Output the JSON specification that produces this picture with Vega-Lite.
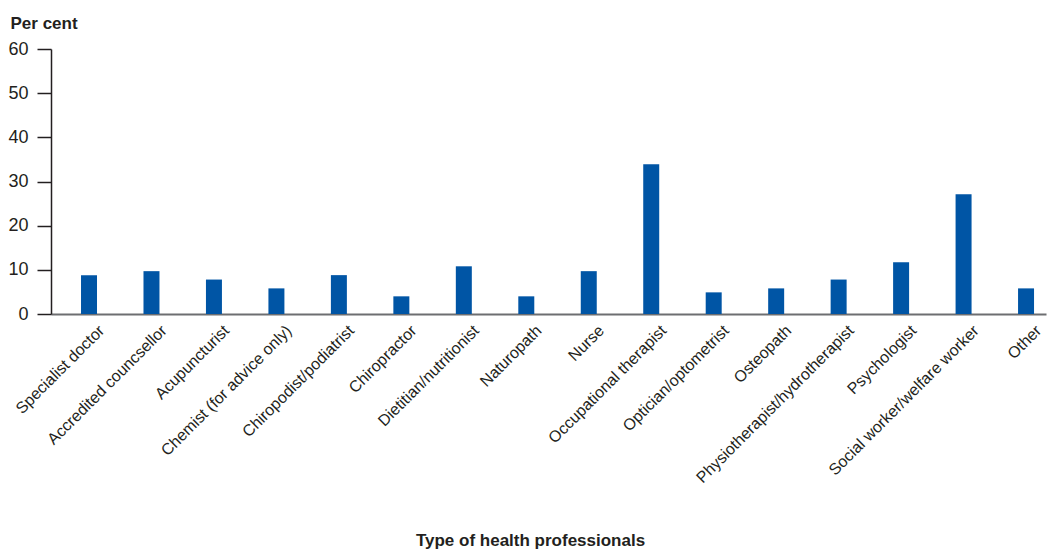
{
  "$schema": "https://vega.github.io/schema/vega-lite/v6.json",
  "width": 995,
  "height": 265,
  "autosize": {"type": "none"},
  "padding": {"left": 51, "top": 49, "right": 1, "bottom": 242},
  "background": "white",
  "config": {
    "view": {"stroke": null},
    "font": "Liberation Sans, sans-serif"
  },
  "data": {
    "values": [
      {"profession": "Specialist doctor", "percent": 8.8},
      {"profession": "Accredited councsellor", "percent": 9.7},
      {"profession": "Acupuncturist", "percent": 7.8},
      {"profession": "Chemist (for advice only)", "percent": 5.8},
      {"profession": "Chiropodist/podiatrist", "percent": 8.8},
      {"profession": "Chiropractor", "percent": 4.0},
      {"profession": "Dietitian/nutritionist", "percent": 10.8},
      {"profession": "Naturopath", "percent": 4.0},
      {"profession": "Nurse", "percent": 9.7},
      {"profession": "Occupational therapist", "percent": 33.9},
      {"profession": "Optician/optometrist", "percent": 4.9},
      {"profession": "Osteopath", "percent": 5.8},
      {"profession": "Physiotherapist/hydrotherapist", "percent": 7.8},
      {"profession": "Psychologist", "percent": 11.7},
      {"profession": "Social worker/welfare worker", "percent": 27.1},
      {"profession": "Other", "percent": 5.8}
    ]
  },
  "mark": {"type": "bar", "color": "#0055a5"},
  "encoding": {
    "x": {
      "field": "profession",
      "type": "nominal",
      "sort": null,
      "scale": {"paddingInner": 0.744, "paddingOuter": 0.336, "align": 0.715},
      "axis": {
        "title": "Type of health professionals",
        "titleFont": "Liberation Sans, sans-serif",
        "titleFontSize": 17,
        "titleFontWeight": "bold",
        "titleColor": "#231f20",
        "titleX": 479,
        "titleY": 231,
        "titleAnchor": null,
        "titleAlign": "center",
        "titleBaseline": "alphabetic",
        "labelAngle": -45,
        "labelFont": "Liberation Sans, sans-serif",
        "labelFontSize": 16,
        "labelColor": "#231f20",
        "labelPadding": 8,
        "labelOffset": 7,
        "labelLimit": 0,
        "ticks": false,
        "domainColor": "#6d6e71",
        "domainWidth": 2,
        "grid": false
      }
    },
    "y": {
      "field": "percent",
      "type": "quantitative",
      "scale": {"domain": [0, 60]},
      "axis": {
        "title": "Per cent",
        "titleFont": "Liberation Sans, sans-serif",
        "titleFontSize": 17,
        "titleFontWeight": "bold",
        "titleColor": "#231f20",
        "titleAngle": 0,
        "titleX": -41,
        "titleY": -21,
        "titleAlign": "left",
        "titleBaseline": "alphabetic",
        "values": [0, 10, 20, 30, 40, 50, 60],
        "labelFont": "Liberation Sans, sans-serif",
        "labelFontSize": 18,
        "labelColor": "#231f20",
        "labelPadding": 9,
        "tickSize": 14,
        "tickColor": "#231f20",
        "tickWidth": 1.5,
        "domainColor": "#231f20",
        "domainWidth": 1.5,
        "grid": false
      }
    }
  }
}
